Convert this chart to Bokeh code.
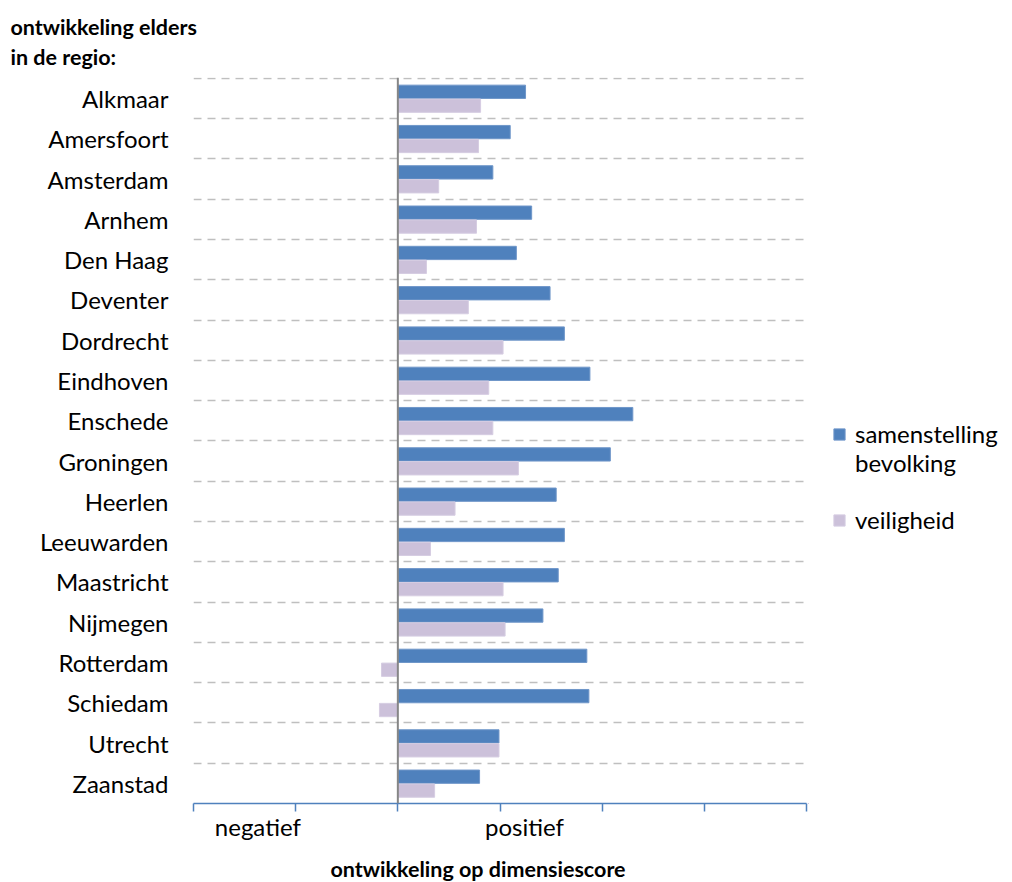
from bokeh.plotting import figure
from bokeh.models import (Range1d, FixedTicker, Span, Legend, LegendItem, Title,
                          ColumnDataSource)
from bokeh.layouts import row
from bokeh.transform import dodge
from bokeh.embed import file_html
from bokeh.resources import INLINE

cities = ["Alkmaar", "Amersfoort", "Amsterdam", "Arnhem", "Den Haag", "Deventer",
          "Dordrecht", "Eindhoven", "Enschede", "Groningen", "Heerlen", "Leeuwarden",
          "Maastricht", "Nijmegen", "Rotterdam", "Schiedam", "Utrecht", "Zaanstad"]
samenstelling = [1.25, 1.10, 0.93, 1.31, 1.16, 1.49, 1.63, 1.88, 2.30, 2.08,
                 1.55, 1.63, 1.57, 1.42, 1.85, 1.87, 0.99, 0.80]
veiligheid = [0.81, 0.79, 0.40, 0.77, 0.28, 0.69, 1.03, 0.89, 0.93, 1.18,
              0.56, 0.32, 1.03, 1.05, -0.16, -0.18, 0.99, 0.36]
series_labels = ["samenstelling", "bevolking", "veiligheid"]
x_label_pos = [-1.37, 1.24]
x_labels = ["negatief", "positief"]
x_ticks = [-2, -1, 0, 1, 2, 3, 4]
x_title = "ontwikkeling op dimensiescore"
y_title = ["ontwikkeling elders", "in de regio:"]

BLUE = "#4F81BD"
LAV = "#CCC1DA"
FONT = "Lato"

n = len(cities)
ypos = [n - 1 - i for i in range(n)]
src = ColumnDataSource(dict(y=ypos, city=cities, sam=samenstelling, vei=veiligheid))

p = figure(width=808, height=882, x_range=Range1d(-2, 4), y_range=Range1d(-0.5, n - 0.48),
           output_backend="svg", toolbar_location=None,
           min_border_left=193, min_border_right=2, min_border_top=77, min_border_bottom=79)
p.outline_line_color = None

p.hbar(y=dodge("y", 0.165, range=p.y_range), left=0, right="sam", height=0.33,
       source=src, fill_color=BLUE, line_color="#6F96C9", line_width=1)
p.hbar(y=dodge("y", -0.18, range=p.y_range), left=0, right="vei", height=0.33,
       source=src, fill_color=LAV, line_color="#D6CDE2", line_width=1)

# grid at category boundaries
p.xgrid.visible = False
p.ygrid.ticker = FixedTicker(ticks=[i + 0.5 for i in range(n)])
p.ygrid.grid_line_color = "#BFBFBF"
p.ygrid.grid_line_width = 1.5
p.ygrid.grid_line_dash = "8 6"

# y axis with city names
p.yaxis.ticker = FixedTicker(ticks=ypos)
p.yaxis.major_label_overrides = {y: c for y, c in zip(ypos, cities)}
p.yaxis.axis_line_color = None
p.yaxis.major_tick_line_color = None
p.yaxis.major_tick_out = 0
p.yaxis.major_tick_in = 0
p.yaxis.minor_tick_line_color = None
p.yaxis.major_label_standoff = 25
p.yaxis.major_label_text_font = FONT
p.yaxis.major_label_text_font_size = "24px"
p.yaxis.major_label_text_color = "#000000"

# x axis: tick marks at integers (minor), text labels negatief/positief
p.xaxis.ticker = FixedTicker(ticks=x_label_pos, minor_ticks=x_ticks)
p.xaxis.major_label_overrides = {v: t for v, t in zip(x_label_pos, x_labels)}
p.xaxis.axis_line_color = BLUE
p.xaxis.axis_line_width = 1.5
p.xaxis.major_tick_line_color = None
p.xaxis.major_tick_out = 0
p.xaxis.major_tick_in = 0
p.xaxis.minor_tick_line_color = BLUE
p.xaxis.minor_tick_line_width = 1.5
p.xaxis.minor_tick_out = 8
p.xaxis.minor_tick_in = 0
p.xaxis.major_label_standoff = 0
p.xaxis.major_label_text_font = FONT
p.xaxis.major_label_text_font_size = "24px"
p.xaxis.major_label_text_color = "#000000"
p.xaxis.axis_label = " "
p.xaxis.axis_label_text_font_size = "7px"
p.xaxis.axis_label_standoff = 0

p.add_layout(Span(location=0, dimension="height", line_color="#868686", line_width=2))

# titles
p.title.text = y_title[0]
p.title.align = "left"
p.title.offset = -183
p.title.standoff = -12
p.title.text_font = FONT
p.title.text_font_size = "21.5px"
p.title.text_font_style = "bold"
p.title.text_color = "#000000"
p.add_layout(Title(text=y_title[1], align="left", offset=-183, standoff=16,
                   text_font=FONT, text_font_size="21.5px", text_font_style="bold",
                   text_color="#000000"), "above")
p.add_layout(Title(text=x_title, align="left", offset=137, standoff=1,
                   text_font=FONT, text_font_size="21.5px", text_font_style="bold",
                   text_color="#000000"), "below")

# legend panel (its renderers use the same data, drawn outside its visible ranges)
lg = figure(width=204, height=882, x_range=Range1d(1000, 1204), y_range=Range1d(1000, 1882),
            x_axis_type=None, y_axis_type=None,
            output_backend="svg", toolbar_location=None,
            min_border_left=0, min_border_right=0, min_border_top=0, min_border_bottom=0)
lg.outline_line_color = None
lg.grid.visible = False
g_sam = lg.hbar(y="y", left=0, right="sam", height=1, source=src,
                fill_color=BLUE, line_color="#6F96C9")
g_vei = lg.hbar(y="y", left=0, right="vei", height=1, source=src,
                fill_color=LAV, line_color="#D6CDE2")
g_blank = lg.hbar(y="y", left=0, right="sam", height=1, source=src,
                  fill_alpha=0, line_alpha=0)

legend = Legend(items=[LegendItem(label=series_labels[0], renderers=[g_sam]),
                       LegendItem(label=series_labels[1], renderers=[g_blank]),
                       LegendItem(label=" ", renderers=[g_blank]),
                       LegendItem(label=" ", renderers=[g_blank]),
                       LegendItem(label=series_labels[2], renderers=[g_vei])],
                location=(24, 269), padding=0, margin=0, spacing=0,
                glyph_width=14, glyph_height=14, label_standoff=9,
                label_text_font=FONT, label_text_font_size="24px",
                label_text_color="#000000",
                border_line_color=None, background_fill_alpha=0)
lg.add_layout(legend)

layout = row(p, lg, spacing=0)
open("out.html", "w").write(file_html(layout, INLINE))
